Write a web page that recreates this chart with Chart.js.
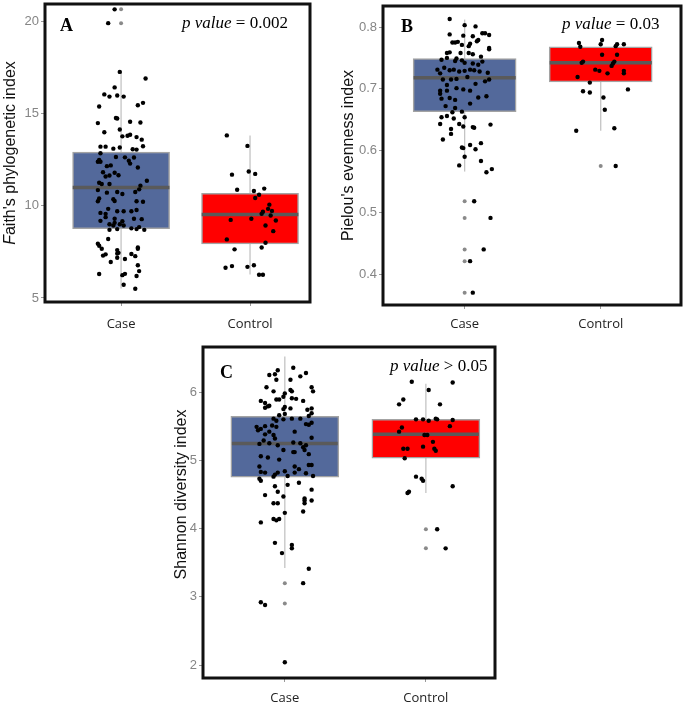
<!DOCTYPE html>
<html>
<head>
<meta charset="utf-8">
<script src="https://cdn.jsdelivr.net/npm/chart.js@4/dist/chart.umd.min.js"></script>
<style>
  body { margin: 0; background: #fff; width: 685px; height: 703px; position: relative; overflow: hidden; }
  .panel { position: absolute; }
</style>
</head>
<body>
<div class="panel" style="left:0;top:0;width:320px;height:340px"><canvas id="chartA"></canvas></div>
<div class="panel" style="left:340px;top:0;width:345px;height:340px"><canvas id="chartB"></canvas></div>
<div class="panel" style="left:160px;top:330px;width:345px;height:373px"><canvas id="chartC"></canvas></div>
<script>
const groups = ["Case", "Control"];

// box stats: [lower whisker, q1, median, q3, upper whisker]
const faithCaseBox = [5.52, 8.76, 11.0, 12.93, 17.28];
const faithControlBox = [6.28, 7.93, 9.53, 10.68, 13.83];
const faithTicks = [5, 10, 15, 20];
const faithCaseOut = [20.68, 19.93];
const faithControlOut = [];
const faithCaseY = [20.68, 19.93, 17.28, 16.92, 16.44, 16.06, 15.94, 16.0, 15.94, 15.4, 15.6, 15.47, 14.78, 14.75, 14.5, 14.57, 14.53, 14.0, 14.15, 13.78, 13.81, 13.87, 13.74, 13.6, 13.22, 13.22, 13.11, 13.17, 13.08, 13.24, 13.06, 12.86, 12.5, 12.4, 12.4, 12.66, 12.64, 12.46, 12.63, 12.3, 12.09, 12.16, 12.2, 11.83, 11.8, 11.65, 11.6, 11.67, 11.26, 11.19, 11.19, 11.37, 11.1, 10.86, 10.72, 10.76, 10.65, 10.76, 10.9, 10.4, 10.36, 10.25, 10.27, 10.25, 10.23, 9.62, 9.57, 9.84, 9.71, 9.71, 9.71, 9.78, 9.39, 9.19, 9.3, 9.17, 9.3, 9.28, 9.08, 9.0, 8.94, 9.0, 8.94, 8.78, 8.74, 8.7, 8.85, 8.7, 8.74, 7.95, 7.84, 8.2, 7.67, 7.3, 7.37, 7.6, 7.41, 7.45, 7.74, 7.67, 7.39, 7.27, 6.95, 7.18, 7.12, 6.78, 6.46, 6.3, 6.31, 6.24, 6.19, 5.72, 5.5];
const faithCaseJit = [-0.05, -0.10, -0.01, 0.19, -0.05, -0.13, -0.09, -0.03, 0.02, -0.17, 0.17, 0.13, -0.04, -0.03, -0.18, 0.07, 0.15, -0.13, -0.01, 0.01, 0.05, 0.07, 0.12, 0.16, -0.16, -0.12, -0.06, -0.01, 0.09, 0.17, 0.12, -0.16, -0.17, -0.18, -0.16, -0.04, 0.03, 0.06, 0.10, 0.07, 0.13, -0.11, -0.08, -0.14, -0.05, -0.09, -0.12, -0.02, -0.17, -0.15, -0.09, 0.20, 0.15, -0.18, -0.11, -0.03, 0.01, 0.11, 0.14, -0.17, -0.06, -0.18, -0.05, 0.12, 0.17, -0.16, -0.12, -0.10, -0.03, 0.02, 0.08, 0.12, -0.12, -0.16, -0.05, 0.01, 0.10, 0.16, -0.05, -0.09, -0.06, -0.01, 0.02, 0.08, 0.12, 0.18, 0.14, -0.09, -0.03, -0.18, -0.17, -0.10, -0.15, -0.14, -0.12, -0.03, -0.03, -0.02, 0.13, 0.13, 0.08, 0.11, -0.08, -0.03, 0.03, 0.13, 0.14, -0.17, 0.03, 0.01, 0.12, 0.02, 0.11];
const faithControlY = [13.83, 13.26, 11.7, 11.87, 11.74, 10.88, 10.81, 10.94, 10.61, 10.43, 10.07, 9.84, 9.73, 9.68, 9.57, 9.48, 9.21, 9.24, 9.3, 8.94, 8.63, 8.18, 8.0, 7.64, 7.74, 6.64, 6.73, 6.69, 6.78, 6.26, 6.26];
const faithControlJit = [-0.18, -0.02, -0.14, -0.01, 0.04, -0.10, 0.03, 0.11, 0.07, 0.04, 0.15, 0.14, 0.17, 0.10, 0.09, 0.16, 0.20, -0.15, 0.01, 0.12, 0.18, -0.18, 0.12, -0.12, 0.09, -0.19, -0.14, -0.02, 0.03, 0.07, 0.10];

const pielouCaseBox = [0.566, 0.663, 0.718, 0.749, 0.812];
const pielouControlBox = [0.632, 0.711, 0.742, 0.768, 0.779];
const pielouTicks = [0.4, 0.5, 0.6, 0.7, 0.8];
const pielouCaseOut = [0.518, 0.491, 0.44, 0.421, 0.37];
const pielouControlOut = [0.575];
const pielouCaseY = [0.813, 0.803, 0.801, 0.788, 0.786, 0.790, 0.790, 0.787, 0.785, 0.779, 0.777, 0.775, 0.775, 0.776, 0.771, 0.773, 0.769, 0.766, 0.764, 0.758, 0.759, 0.758, 0.758, 0.756, 0.752, 0.747, 0.750, 0.749, 0.746, 0.742, 0.741, 0.739, 0.744, 0.745, 0.731, 0.734, 0.730, 0.731, 0.728, 0.729, 0.731, 0.730, 0.728, 0.726, 0.725, 0.715, 0.715, 0.716, 0.719, 0.715, 0.712, 0.708, 0.706, 0.697, 0.692, 0.697, 0.701, 0.699, 0.697, 0.685, 0.684, 0.682, 0.686, 0.688, 0.676, 0.672, 0.669, 0.662, 0.663, 0.654, 0.656, 0.652, 0.654, 0.643, 0.643, 0.639, 0.638, 0.637, 0.635, 0.627, 0.642, 0.618, 0.605, 0.604, 0.609, 0.612, 0.602, 0.590, 0.583, 0.576, 0.565, 0.570, 0.518, 0.491, 0.440, 0.421, 0.370];
const pielouCaseJit = [-0.11, 0.00, 0.08, -0.11, -0.01, 0.13, 0.15, 0.18, 0.06, 0.10, 0.09, -0.09, -0.07, -0.05, -0.02, 0.04, 0.03, 0.18, 0.18, -0.13, -0.11, -0.03, 0.03, 0.06, 0.12, -0.17, -0.13, -0.06, -0.02, 0.00, 0.06, 0.10, 0.13, -0.07, -0.20, -0.15, -0.11, -0.08, -0.04, 0.00, 0.04, 0.07, 0.11, 0.17, -0.18, -0.16, -0.10, -0.06, 0.02, 0.18, 0.15, 0.08, -0.13, -0.18, -0.18, -0.13, -0.06, -0.01, 0.04, -0.11, -0.17, -0.07, 0.10, 0.16, 0.04, -0.14, -0.07, -0.09, -0.02, -0.17, -0.13, -0.08, 0.00, -0.18, -0.04, -0.01, 0.06, 0.07, -0.10, -0.10, 0.19, -0.16, -0.02, -0.01, 0.04, 0.12, 0.08, 0.00, 0.12, -0.04, 0.16, 0.20, 0.07, 0.19, 0.14, 0.04, 0.06];
const pielouControlY = [0.774, 0.779, 0.772, 0.768, 0.772, 0.772, 0.769, 0.755, 0.755, 0.744, 0.742, 0.744, 0.741, 0.737, 0.731, 0.729, 0.725, 0.729, 0.725, 0.719, 0.710, 0.696, 0.694, 0.699, 0.686, 0.666, 0.632, 0.636, 0.575];
const pielouControlJit = [-0.16, 0.01, 0.00, -0.15, 0.12, 0.17, 0.11, 0.01, 0.12, -0.13, -0.14, 0.10, 0.09, 0.08, -0.04, -0.01, 0.05, 0.17, 0.17, -0.17, -0.08, -0.13, -0.08, 0.20, 0.02, 0.03, -0.18, 0.10, 0.11];

const shannonCaseBox = [3.42, 4.754, 5.246, 5.645, 6.52];
const shannonControlBox = [4.52, 5.03, 5.38, 5.60, 6.12];
const shannonTicks = [2, 3, 4, 5, 6];
const shannonCaseOut = [3.2, 2.9];
const shannonControlOut = [3.99, 3.71];
const shannonCaseY = [6.355, 6.32, 6.25, 6.26, 6.28, 6.23, 6.18, 6.18, 6.07, 6.07, 6.01, 6.03, 6.01, 6.01, 5.98, 5.93, 5.89, 5.89, 5.91, 5.90, 5.87, 5.84, 5.87, 5.79, 5.80, 5.77, 5.76, 5.75, 5.78, 5.74, 5.76, 5.69, 5.65, 5.68, 5.66, 5.61, 5.60, 5.61, 5.61, 5.58, 5.49, 5.46, 5.50, 5.51, 5.49, 5.53, 5.52, 5.55, 5.42, 5.42, 5.44, 5.38, 5.37, 5.32, 5.33, 5.29, 5.24, 5.25, 5.22, 5.26, 5.25, 5.22, 5.19, 5.15, 5.15, 5.12, 5.12, 5.06, 5.04, 5.09, 5.01, 4.91, 4.91, 4.87, 4.93, 4.93, 4.83, 4.82, 4.79, 4.82, 4.84, 4.82, 4.81, 4.77, 4.73, 4.70, 4.76, 4.77, 4.67, 4.64, 4.62, 4.57, 4.49, 4.54, 4.47, 4.44, 4.41, 4.41, 4.37, 4.37, 4.37, 4.25, 4.23, 4.14, 4.12, 4.14, 4.09, 3.79, 3.76, 3.71, 3.64, 3.41, 3.20, 2.92, 2.88, 2.04];
const shannonCaseJit = [0.06, -0.05, -0.11, -0.07, 0.15, 0.11, -0.06, 0.04, -0.13, 0.19, 0.20, 0.04, 0.05, -0.08, 0.00, -0.01, -0.06, -0.04, 0.05, 0.08, -0.17, -0.14, 0.13, -0.12, -0.11, -0.14, 0.04, -0.01, 0.00, 0.16, 0.19, 0.19, 0.17, 0.00, -0.04, -0.08, -0.01, 0.05, 0.11, -0.06, -0.20, -0.17, -0.14, -0.09, -0.06, 0.15, 0.17, 0.19, 0.07, -0.11, -0.19, -0.14, -0.08, -0.07, 0.19, -0.15, -0.18, -0.11, -0.05, 0.06, 0.11, 0.15, 0.13, 0.14, -0.01, 0.06, 0.07, -0.17, -0.12, 0.17, -0.04, -0.18, 0.07, 0.10, 0.17, 0.19, -0.17, -0.14, -0.07, -0.05, 0.00, 0.07, 0.15, 0.20, -0.18, -0.17, -0.08, 0.02, 0.10, 0.02, -0.07, 0.19, -0.14, -0.05, -0.01, 0.14, 0.19, 0.14, 0.14, -0.08, -0.05, 0.13, 0.00, -0.08, -0.06, -0.04, -0.17, -0.07, 0.05, 0.05, -0.02, 0.17, 0.13, -0.17, -0.14, 0.00];
const shannonControlY = [6.15, 6.14, 6.03, 5.82, 5.82, 5.89, 5.60, 5.60, 5.58, 5.61, 5.60, 5.59, 5.48, 5.42, 5.50, 5.37, 5.37, 5.27, 5.20, 5.17, 5.14, 5.17, 5.17, 5.03, 4.76, 4.73, 4.70, 4.54, 4.52, 4.62, 3.99, 3.71];
const shannonControlJit = [-0.10, 0.19, 0.02, -0.19, 0.10, -0.16, -0.07, -0.02, 0.02, 0.07, 0.08, 0.19, -0.17, -0.19, 0.17, -0.01, 0.01, 0.05, -0.02, 0.06, 0.07, -0.16, -0.13, -0.15, -0.07, -0.03, -0.02, -0.12, -0.13, 0.19, 0.08, 0.14];

Chart.defaults.font.family = "'Liberation Sans', Arial, sans-serif";

// thick frame, panel letter, p value and y title
const decorPlugin = {
  id: "decor",
  afterDatasetsDraw(chart, args, o) {
    const a = chart.chartArea, ctx = chart.ctx;
    ctx.save();
    ctx.strokeStyle = "#111";
    ctx.lineWidth = 3;
    ctx.strokeRect(a.left, a.top, a.right - a.left, a.bottom - a.top);

    ctx.fillStyle = "#000";
    ctx.textBaseline = "middle";
    ctx.textAlign = "left";
    ctx.font = "bold 18px 'Liberation Serif'";
    ctx.fillText(o.letter, a.left + o.letterX, a.top + o.letterY);

    ctx.font = "italic 17px 'Liberation Serif'";
    ctx.fillText("p value", a.left + o.pX, a.top + o.pY);
    let w = ctx.measureText("p value").width;
    ctx.font = "17px 'Liberation Serif'";
    ctx.fillText(o.pText, a.left + o.pX + w, a.top + o.pY);

    // y title, optional italic first letter
    ctx.translate(o.titleX, (a.top + a.bottom) / 2 + o.titleDY);
    ctx.rotate(-Math.PI / 2);
    ctx.font = "italic 16px 'Liberation Sans'";
    const w1 = ctx.measureText(o.titleItalic).width;
    ctx.font = "16px 'Liberation Sans'";
    const w2 = ctx.measureText(o.title).width;
    let x = -(w1 + w2) / 2;
    ctx.fillStyle = "#111";
    ctx.font = "italic 16px 'Liberation Sans'";
    ctx.fillText(o.titleItalic, x, 0);
    ctx.font = "16px 'Liberation Sans'";
    ctx.fillText(o.title, x + w1, 0);
    ctx.restore();
  }
};

function pts(ys, jit, center) {
  return ys.map((v, i) => ({ x: center + jit[i], y: v }));
}

function panel(id, p) {
  const ds = [];
  [p.caseBox, p.controlBox].forEach((b, i) => {
    ds.push({ type: "line", data: [{ x: i + 1, y: b[0] }, { x: i + 1, y: b[4] }],
      borderColor: "#c4c4c4", borderWidth: 1.3, pointRadius: 0, order: 6 });
  });
  ds.push({ type: "bar",
    data: [{ x: 1, y: [p.caseBox[1], p.caseBox[3]] }, { x: 2, y: [p.controlBox[1], p.controlBox[3]] }],
    backgroundColor: ["#53699b", "#ff0000"], borderColor: "#a3a3a3", borderWidth: 1.5,
    borderSkipped: false, barThickness: p.boxPx, grouped: false, order: 5 });
  [p.caseBox, p.controlBox].forEach((b, i) => {
    ds.push({ type: "line", data: [{ x: i + 1 - 0.375, y: b[2] }, { x: i + 1 + 0.375, y: b[2] }],
      borderColor: "#5a5a5a", borderWidth: 3.5, pointRadius: 0, order: 4 });
  });
  ds.push({ type: "scatter",
    data: p.caseOut.map(v => ({ x: 1, y: v })).concat(p.controlOut.map(v => ({ x: 2, y: v }))),
    pointRadius: 2, pointBackgroundColor: "#8a8a8a", pointBorderWidth: 0, order: 3 });
  ds.push({ type: "scatter",
    data: pts(p.caseY, p.caseJit, 1).concat(pts(p.controlY, p.controlJit, 2)),
    pointRadius: 2.2, pointBackgroundColor: "#000", pointBorderWidth: 0, order: 2 });

  new Chart(document.getElementById(id), {
    type: "bar",
    data: { datasets: ds },
    options: {
      responsive: true,
      maintainAspectRatio: false,
      animation: false,
      layout: { padding: { left: 0, top: p.top, right: p.right, bottom: 0 } },
      plugins: { legend: { display: false }, tooltip: { enabled: false }, decor: p.decor },
      scales: {
        x: {
          type: "linear", min: p.xMin, max: p.xMax, offset: false,
          afterBuildTicks: s => { s.ticks = [{ value: 1 }, { value: 2 }]; },
          afterFit: s => { s.height = p.bottomH; s.paddingLeft = 0; s.paddingRight = 0; },
          ticks: { callback: v => groups[v - 1], color: "#222", padding: p.xPad,
            font: { family: "'Open Sans', sans-serif", size: 13 } },
          grid: { drawOnChartArea: false, offset: false, tickLength: 4, color: "#9a9a9a" },
          border: { display: false }
        },
        y: {
          min: p.yMin, max: p.yMax,
          afterBuildTicks: s => { s.ticks = p.ticks.map(v => ({ value: v })); },
          afterFit: s => { s.width = p.leftW; s.paddingTop = 0; s.paddingBottom = 0; },
          ticks: { callback: p.fmt, color: "#858585", padding: 2,
            font: { family: "'Liberation Sans Narrow', 'Liberation Sans', sans-serif", size: 13 } },
          grid: { drawOnChartArea: false, tickLength: 4, color: "#9a9a9a" },
          border: { display: false }
        }
      }
    },
    plugins: [decorPlugin]
  });
}

panel("chartA", {
  caseBox: faithCaseBox, controlBox: faithControlBox, caseOut: faithCaseOut, controlOut: faithControlOut,
  caseY: faithCaseY, caseJit: faithCaseJit, controlY: faithControlY, controlJit: faithControlJit,
  ticks: faithTicks, fmt: v => String(v), yMin: 4.78, yMax: 20.97, xMin: 0.41, xMax: 2.465,
  boxPx: 97, top: 2, right: 10, leftW: 45, bottomH: 38, xPad: 10,
  decor: { letter: "A", letterX: 15, letterY: 22, pText: " = 0.002", pX: 137, pY: 20,
    titleItalic: "F", title: "aith's phylogenetic index", titleX: 11, titleDY: 0 }
});

panel("chartB", {
  caseBox: pielouCaseBox, controlBox: pielouControlBox, caseOut: pielouCaseOut, controlOut: pielouControlOut,
  caseY: pielouCaseY, caseJit: pielouCaseJit, controlY: pielouControlY, controlJit: pielouControlJit,
  ticks: pielouTicks, fmt: v => v.toFixed(1), yMin: 0.35, yMax: 0.834, xMin: 0.40, xMax: 2.59,
  boxPx: 103, top: 6, right: 2, leftW: 43, bottomH: 35, xPad: 7,
  decor: { letter: "B", letterX: 18, letterY: 21, pText: " = 0.03", pX: 179, pY: 19,
    titleItalic: "", title: "Pielou's evenness index", titleX: 9, titleDY: 0 }
});

panel("chartC", {
  caseBox: shannonCaseBox, controlBox: shannonControlBox, caseOut: shannonCaseOut, controlOut: shannonControlOut,
  caseY: shannonCaseY, caseJit: shannonCaseJit, controlY: shannonControlY, controlJit: shannonControlJit,
  ticks: shannonTicks, fmt: v => String(v), yMin: 1.81, yMax: 6.66, xMin: 0.42, xMax: 2.49,
  boxPx: 108, top: 17, right: 10, leftW: 43, bottomH: 25, xPad: 8,
  decor: { letter: "C", letterX: 17, letterY: 26, pText: " > 0.05", pX: 187, pY: 20,
    titleItalic: "", title: "Shannon diversity index", titleX: 22, titleDY: -18 }
});
</script>
</body>
</html>
